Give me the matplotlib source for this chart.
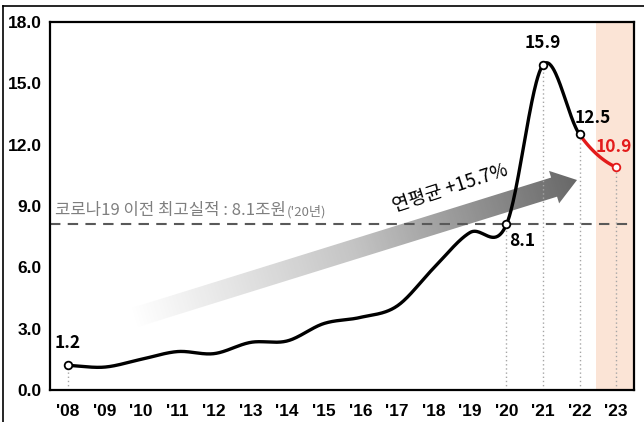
import numpy as np
import matplotlib
matplotlib.use("Agg")
import matplotlib.pyplot as plt
from matplotlib import font_manager
from matplotlib.patches import Polygon
from matplotlib.lines import Line2D
from matplotlib.colors import LinearSegmentedColormap

# ---------------- data ----------------
years = [2008, 2009, 2010, 2011, 2012, 2013, 2014, 2015,
         2016, 2017, 2018, 2019, 2020, 2021, 2022, 2023]
values = [1.2, 1.12, 1.5, 1.88, 1.78, 2.33, 2.4, 3.25,
          3.55, 4.1, 5.95, 7.7, 8.1, 15.9, 12.5, 10.9]
tick_labels = ["'08", "'09", "'10", "'11", "'12", "'13", "'14", "'15",
               "'16", "'17", "'18", "'19", "'20", "'21", "'22", "'23"]
yticks = [0, 3, 6, 9, 12, 15, 18]
labeled_years = [2008, 2020, 2021, 2022, 2023]
prev_best = 8.1
cagr_text = "연평균 +15.7%"
ref_text = "코로나19 이전 최고실적 : 8.1조원"
ref_text2 = "('20년)"

# ---------------- fonts ----------------
names = {f.name for f in font_manager.fontManager.ttflist}
tick_font = "Liberation Sans Narrow" if "Liberation Sans Narrow" in names else "Liberation Sans"
KR = ["Noto Sans CJK KR", "DejaVu Sans"]

RED = "#e31b1b"
W, H = 644, 422
fig = plt.figure(figsize=(W / 100, H / 100), dpi=100)
ax_l, ax_r, ax_t, ax_b = 50, 634, 22, 390
ax = fig.add_axes([ax_l / W, (H - ax_b) / H, (ax_r - ax_l) / W, (ax_b - ax_t) / H])
AW, AH = ax_r - ax_l, ax_b - ax_t

x0 = years[0] - 0.493
x1 = years[-1] + 0.49
ax.set_xlim(x0, x1)
ax.set_ylim(0, 18)

# shaded forecast region
ax.axvspan(years[-1] - 0.55, x1, color="#fbe4d6", lw=0, zorder=0)

# gradient arrow (axes-pixel geometry)
T = np.array([83.0, 72.0])
P = np.array([527.0, 210.0])
d = P - T
L = np.hypot(*d)
u = d / L
n = np.array([-u[1], u[0]])
hw, hhw, hl = 10.0, 17.0, 24.0
B = P - u * hl
poly_px = np.array([T + n * hw, B + n * hw, B + n * hhw, P, B - n * hhw, B - n * hw, T - n * hw])
poly_ax = poly_px / np.array([AW, AH])
clip = Polygon(poly_ax, closed=True, transform=ax.transAxes, facecolor="none", edgecolor="none")
xs_px = np.arange(AW) + 0.5
ys_px = np.arange(AH) + 0.5
X, Y = np.meshgrid(xs_px, ys_px)
t = np.clip(((X - T[0]) * u[0] + (Y - T[1]) * u[1]) / L, 0, 1)
cmap = LinearSegmentedColormap.from_list("g", ["#ffffff", "#c4c4c4", "#686868"])
im = ax.imshow(t, cmap=cmap, origin="lower", extent=(0, 1, 0, 1), transform=ax.transAxes,
               aspect="auto", zorder=1, interpolation="bilinear", vmin=0, vmax=1)
im.set_clip_path(clip)
ax.set_xlim(x0, x1)
ax.set_ylim(0, 18)

# reference dashed line
ax.axhline(prev_best, color="#595959", lw=1.5, ls=(0, (5, 3.5)), zorder=2)

# vertical dotted guides
for yr in labeled_years:
    v = values[years.index(yr)]
    ax.plot([yr, yr], [0, v], color="#a6a6a6", lw=1.0, ls=(0, (1, 2)), zorder=2)

# smooth curve (Catmull-Rom, like Excel smoothing)
xs = np.array(years, float)
ys = np.array(values, float)
px = np.concatenate([[2 * xs[0] - xs[1]], xs, [2 * xs[-1] - xs[-2]]])
py = np.concatenate([[ys[0]], ys, [ys[-1]]])
tt = np.linspace(0, 1, 50)
segs = []
for i in range(1, len(px) - 2):
    p0, p1, p2, p3 = (np.array([px[j], py[j]]) for j in (i - 1, i, i + 1, i + 2))
    c1 = p1 + (p2 - p0) / 6
    c2 = p2 - (p3 - p1) / 6
    b = ((1 - tt) ** 3)[:, None] * p1 + (3 * (1 - tt) ** 2 * tt)[:, None] * c1 \
        + (3 * (1 - tt) * tt ** 2)[:, None] * c2 + (tt ** 3)[:, None] * p2
    segs.append(b)
black = np.vstack(segs[:-1])
red = segs[-1]
ax.plot(black[:, 0], black[:, 1], color="black", lw=2.4, zorder=4, solid_capstyle="round")
ax.plot(red[:, 0], red[:, 1], color=RED, lw=2.4, zorder=4, solid_capstyle="round")

for yr in labeled_years:
    v = values[years.index(yr)]
    ec = RED if yr == years[-1] else "black"
    ax.plot([yr], [v], marker="o", ms=5.5, mfc="white", mec=ec, mew=1.3, zorder=5)

# data labels
lab_kw = dict(textcoords="offset points", ha="center", va="center", fontsize=12.5,
              fontweight="bold", family=KR, zorder=6)
offsets = {2008: (0, 16), 2020: (11, -12), 2021: (0, 16), 2022: (9.5, 12), 2023: (-2, 14.5)}
for yr in labeled_years:
    v = values[years.index(yr)]
    col = RED if yr == years[-1] else "black"
    ax.annotate(f"{v:.1f}", (yr, v), xytext=offsets[yr], color=col, **lab_kw)

# reference text
t1 = ax.text(2007.64, 8.55, ref_text, color="#7f7f7f", fontsize=12, family=KR,
             ha="left", va="baseline", zorder=6)
fig.canvas.draw()
bb = t1.get_window_extent()
xr = ax.transData.inverted().transform((bb.x1 + 1, 0))[0]
ax.text(xr, 8.55, ref_text2, color="#7f7f7f", fontsize=9.5, family=KR,
        ha="left", va="baseline", zorder=6)

# CAGR text
ax.text(2018.45, 9.85, cagr_text, rotation=18, fontsize=13.5, family=KR, color="black",
        ha="center", va="center", rotation_mode="anchor", zorder=6)

# axes styling
ax.set_xticks(years)
ax.set_xticklabels(tick_labels)
ax.set_yticks(yticks)
ax.set_yticklabels([f"{v:.1f}" for v in yticks])
ax.tick_params(axis="both", length=0)
ax.tick_params(axis="x", pad=10)
ax.tick_params(axis="y", pad=6)
for lab in ax.get_xticklabels() + ax.get_yticklabels():
    lab.set_fontfamily(tick_font)
    lab.set_fontweight("bold")
    lab.set_fontsize(12.5)
for s in ax.spines.values():
    s.set_linewidth(1.6)
    s.set_color("black")

# outer frame remnants
fig.add_artist(Line2D([3 / W, 3 / W], [0, 1 - 6 / H], transform=fig.transFigure, color="black", lw=1.2))
fig.add_artist(Line2D([3 / W, 1], [1 - 6 / H, 1 - 6 / H], transform=fig.transFigure, color="black", lw=1.2))

fig.savefig("out.png", dpi=100)
